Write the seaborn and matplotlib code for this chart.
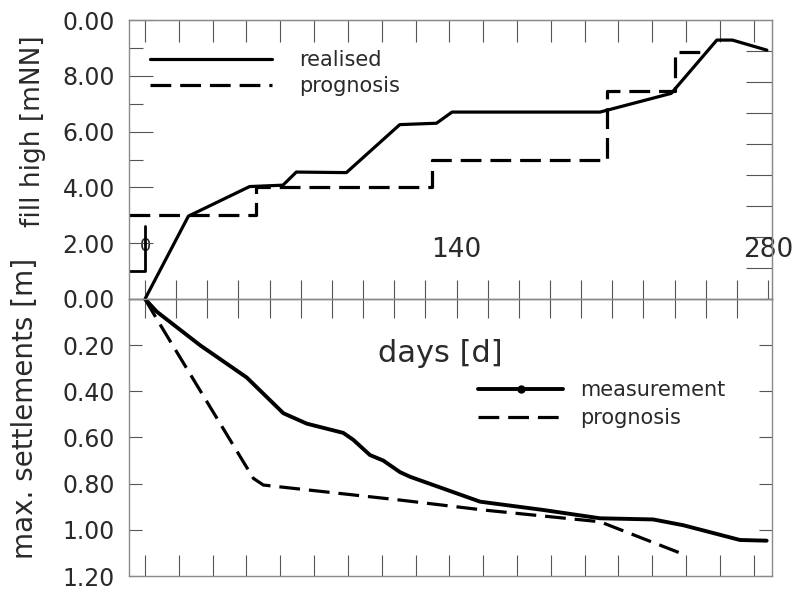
import numpy as np
import matplotlib
matplotlib.use("Agg")
import matplotlib.pyplot as plt
from matplotlib.lines import Line2D
from matplotlib.ticker import FixedLocator, FixedFormatter, MultipleLocator
import seaborn as sns

# ---------------- data ----------------
realised_days = [0, 19.5, 47, 62, 68, 90.5, 114.5, 131, 138, 204.5, 236.5, 257, 264, 279.5]
realised_fill = [0, 2.97, 4.03, 4.08, 4.55, 4.53, 6.25, 6.3, 6.7, 6.7, 7.37, 9.28, 9.28, 8.92]

progn_start_days = [-7, 0, 0]
progn_start_fill = [1.0, 1.0, 2.6]
progn_days = [-7, 50, 50, 129, 129, 207.5, 207.5, 238, 238, 252]
progn_fill = [3, 3, 4, 4, 5, 5, 7.45, 7.45, 8.85, 8.85]

meas_days = [0, 5.3, 24.7, 45.7, 62.2, 72.7, 89.1, 93.6, 101.1, 107.1, 114.6, 119.1,
             150.6, 179, 204.5, 228.4, 241.9, 267.4, 279.4]
meas_settle = [0, 0.055, 0.20, 0.34, 0.495, 0.54, 0.58, 0.61, 0.676, 0.70, 0.75, 0.77,
               0.878, 0.914, 0.95, 0.955, 0.98, 1.044, 1.047]

progs_days = [0, 5.3, 48.7, 53.2, 114.6, 152, 204.5, 240.4]
progs_settle = [0, 0.087, 0.777, 0.806, 0.871, 0.914, 0.965, 1.10]

fill_ticks = [0, 2, 4, 6, 8, 10]
fill_labels = ["", "2.00", "4.00", "6.00", "8.00", "0.00"]
settle_ticks = [0, 0.2, 0.4, 0.6, 0.8, 1.0, 1.2]
settle_labels = ["0.00", "0.20", "0.40", "0.60", "0.80", "1.00", "1.20"]
day_ticks = list(range(0, 281, 14))
day_labels = ["0" if d == 0 else ("140" if d == 140 else ("280" if d == 280 else "")) for d in day_ticks]
frame_ticks = list(np.arange(0, 275, 15.2))

# ---------------- style ----------------
sns.set_style("white")
plt.rcParams["font.family"] = ["DejaVu Sans"]
TICKC = "#555555"
TEXTC = "#2a2a2a"
SPINEC = "#8a8a8a"
DASH = (0, (6.5, 2.8))

fig = plt.figure(figsize=(7.94, 5.93), dpi=100)
W, H = 794.0, 593.0
L, R = 129 / W, 772 / W
ax_top = fig.add_axes([L, 1 - 299 / H, R - L, (299 - 20) / H])
ax_bot = fig.add_axes([L, 1 - 576 / H, R - L, (576 - 299) / H])
for ax in (ax_top, ax_bot):
    ax.set_facecolor("none")
    for s in ax.spines.values():
        s.set_color(SPINEC)
        s.set_linewidth(1.0)
    ax.set_xlim(-7.2, 281.8)

# ---------------- lines ----------------
sns.lineplot(x=realised_days, y=realised_fill, ax=ax_top, sort=False, estimator=None,
             color="black", lw=2.3)
sns.lineplot(x=progn_start_days, y=progn_start_fill, ax=ax_top, sort=False, estimator=None,
             color="black", lw=2.0)
sns.lineplot(x=progn_days, y=progn_fill, ax=ax_top, sort=False, estimator=None,
             color="black", lw=2.3, linestyle=DASH)
sns.lineplot(x=meas_days, y=meas_settle, ax=ax_bot, sort=False, estimator=None,
             color="black", lw=2.8)
sns.lineplot(x=progs_days, y=progs_settle, ax=ax_bot, sort=False, estimator=None,
             color="black", lw=2.3, linestyle=DASH)

# ---------------- top axes ----------------
ax_top.set_ylim(0, 10)
ax_top.yaxis.set_major_locator(FixedLocator(fill_ticks))
ax_top.yaxis.set_major_formatter(FixedFormatter(fill_labels))
ax_top.yaxis.set_minor_locator(MultipleLocator(1))
ax_top.tick_params(axis="y", which="major", direction="in", length=17, width=0.8,
                   color=TICKC, labelsize=17, labelcolor=TEXTC, pad=10, left=True, right=False)
ax_top.tick_params(axis="y", which="minor", direction="in", length=10, width=0.8,
                   color=TICKC, left=True, right=False)
ax_top.xaxis.set_major_locator(FixedLocator(day_ticks))
ax_top.xaxis.set_major_formatter(FixedFormatter(day_labels))
ax_top.tick_params(axis="x", which="major", direction="in", length=14, width=0.8,
                   color=TICKC, labelsize=19, labelcolor=TEXTC, pad=-44.6,
                   bottom=True, top=False)
ax_top.xaxis.get_major_ticks()[0].label1.set_fontsize(13)
sec_top = ax_top.secondary_xaxis("top")
sec_top.xaxis.set_major_locator(FixedLocator(frame_ticks))
sec_top.tick_params(direction="in", length=16, width=0.8, color=TICKC, labeltop=False)
sec_top.spines["top"].set_color(SPINEC)
sec_r = ax_top.secondary_yaxis("right", functions=(lambda y: y * 0.9, lambda y: y / 0.9))
sec_r.yaxis.set_major_locator(FixedLocator(range(1, 9)))
sec_r.tick_params(direction="in", length=19, width=0.8, color=TICKC, labelright=False)
sec_r.spines["right"].set_color(SPINEC)
ax_top.set_xlabel("")
ax_top.set_ylabel("")

# ---------------- bottom axes ----------------
ax_bot.set_ylim(1.2, 0)
ax_bot.yaxis.set_major_locator(FixedLocator(settle_ticks))
ax_bot.yaxis.set_major_formatter(FixedFormatter(settle_labels))
ax_bot.tick_params(axis="y", direction="in", length=9.5, width=0.8, color=TICKC,
                   labelsize=17, labelcolor=TEXTC, pad=10, left=True, right=True)
ax_bot.xaxis.set_major_locator(FixedLocator(frame_ticks))
ax_bot.tick_params(axis="x", direction="in", length=15, width=0.8, color=TICKC,
                   labelbottom=False, bottom=True, top=False)
sec_mid = ax_bot.secondary_xaxis("top")
sec_mid.xaxis.set_major_locator(FixedLocator(day_ticks[:-1]))
sec_mid.tick_params(direction="in", length=14, width=0.8, color=TICKC, labeltop=False)
sec_mid.spines["top"].set_color("#666666")
ax_bot.set_ylabel("")
ax_bot.set_xlabel("days [d]", fontsize=22, color=TEXTC)
ax_bot.xaxis.set_label_coords(0.484, 0.855)

# ---------------- labels ----------------
fig.text(33 / W, 1 - 131 / H, "fill high [mNN]", rotation=90, ha="center", va="center",
         fontsize=19, color=TEXTC)
fig.text(25 / W, 1 - 408 / H, "max. settlements [m]", rotation=90, ha="center", va="center",
         fontsize=20, color=TEXTC)

# ---------------- legends ----------------
h_real = Line2D([], [], color="black", lw=2.3)
h_prog = Line2D([], [], color="black", lw=2.3, linestyle=DASH)
leg1 = ax_top.legend([h_real, h_prog], ["realised", "prognosis"], loc="center left",
                     bbox_to_anchor=(150 / W, 1 - 73 / H), bbox_transform=fig.transFigure,
                     frameon=False, borderpad=0, borderaxespad=0, fontsize=15,
                     handlelength=5.85, handletextpad=1.3, labelspacing=0.29)
for t in leg1.get_texts():
    t.set_color(TEXTC)
h_meas = Line2D([], [], color="black", lw=2.8, marker="o", markersize=5,
                markevery=[1])
h_prog2 = Line2D([], [], color="black", lw=2.3, linestyle=DASH)
leg2 = ax_bot.legend([h_meas, h_prog2], ["measurement", "prognosis"], loc="center left",
                     bbox_to_anchor=(478 / W, 1 - 404 / H), bbox_transform=fig.transFigure,
                     frameon=False, borderpad=0, borderaxespad=0, fontsize=15,
                     handlelength=4.1, handletextpad=0.8, labelspacing=0.38, numpoints=1)
for t in leg2.get_texts():
    t.set_color(TEXTC)

fig.savefig("out.png", dpi=100)
